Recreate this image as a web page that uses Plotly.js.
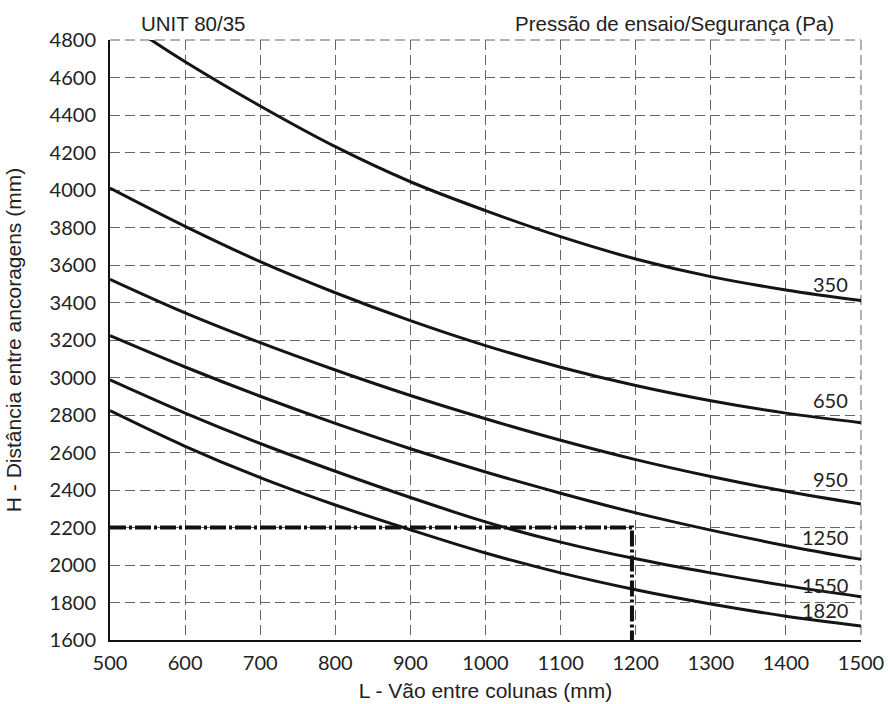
<!DOCTYPE html>
<html>
<head>
<meta charset="utf-8">
<script src="https://cdn.plot.ly/plotly-3.0.1.min.js"></script>
<style>html,body{margin:0;padding:0;background:#fff;}#chart{width:890px;height:704px;}</style>
</head>
<body>
<div id="chart"></div>
<script>
// Data
const spanL = [500, 600, 700, 800, 900, 1000, 1100, 1200, 1300, 1400, 1500];
const spanL350 = [550, 600, 700, 800, 900, 1000, 1100, 1200, 1300, 1400, 1500];
const h350  = [4813, 4684, 4448, 4231, 4044, 3890, 3751, 3632, 3538, 3467, 3410];
const h650  = [4010, 3806, 3618, 3452, 3303, 3170, 3055, 2957, 2876, 2810, 2759];
const h950  = [3524, 3345, 3186, 3040, 2904, 2780, 2665, 2562, 2472, 2393, 2325];
const h1250 = [3223, 3056, 2900, 2755, 2620, 2496, 2383, 2278, 2186, 2103, 2030];
const h1550 = [2987, 2810, 2648, 2500, 2360, 2230, 2122, 2033, 1958, 1890, 1831];
const h1820 = [2823, 2633, 2466, 2320, 2188, 2064, 1958, 1868, 1792, 1727, 1675];
const pressureLabels = ["350", "650", "950", "1250", "1550", "1820"];
// Example reading (dash-dot guide)
const exampleL = [500, 1195, 1195];
const exampleH = [2200, 2200, 1600];
const xTicks = [500, 600, 700, 800, 900, 1000, 1100, 1200, 1300, 1400, 1500];
const yTicks = [1600, 1800, 2000, 2200, 2400, 2600, 2800, 3000, 3200, 3400, 3600, 3800, 4000, 4200, 4400, 4600, 4800];

const series = [
  {x: spanL350, y: h350},
  {x: spanL, y: h650},
  {x: spanL, y: h950},
  {x: spanL, y: h1250},
  {x: spanL, y: h1550},
  {x: spanL, y: h1820}
];
// label offsets above each curve's end (px)
const labelYShift = [17, 23, 25, 22, 12, 16];

const curveLine = {color: '#141414', width: 3, shape: 'spline', smoothing: 1};
const traces = series.map((s, i) => ({
  type: 'scatter', mode: 'lines', x: s.x, y: s.y,
  line: curveLine, hoverinfo: 'skip', showlegend: false, name: pressureLabels[i]
}));
traces.push({
  type: 'scatter', mode: 'lines', x: exampleL, y: exampleH,
  line: {color: '#111', width: 4, dash: '16px,3px,3px,3px'},
  showlegend: false, hoverinfo: 'skip'
});

const numFamily = 'Lato, "Liberation Sans", Arial, sans-serif';
const textFamily = '"Liberation Sans", Arial, sans-serif';
const gridColor = '#666';
const gridDash = '10px,5px';
const tickFont = {family: numFamily, size: 20, color: '#222'};
const annotations = series.map((s, i) => ({
  x: s.x[s.x.length - 1], y: s.y[s.y.length - 1], xref: 'x', yref: 'y',
  text: pressureLabels[i], showarrow: false, xanchor: 'right', yanchor: 'middle',
  xshift: -11, yshift: labelYShift[i],
  font: {family: numFamily, size: 20, color: '#222'}
}));
annotations.push({
  xref: 'paper', yref: 'paper', x: 0.111, y: 1, yanchor: 'bottom', xanchor: 'center', yshift: 3,
  text: 'UNIT 80/35', showarrow: false,
  font: {family: textFamily, size: 20.5, color: '#222'}
});
annotations.push({
  xref: 'paper', yref: 'paper', x: 0.967, y: 1, yanchor: 'bottom', xanchor: 'right', yshift: 3,
  text: 'Pressão de ensaio/Segurança (Pa)', showarrow: false,
  font: {family: textFamily, size: 20.5, color: '#222'}
});

const layout = {
  width: 890, height: 704,
  margin: {l: 110, r: 29, t: 40, b: 64},
  paper_bgcolor: '#fff', plot_bgcolor: '#fff',
  xaxis: {
    range: [500, 1500], tickvals: xTicks, ticktext: xTicks.map(String),
    showgrid: true, gridcolor: gridColor, gridwidth: 1, griddash: gridDash,
    showline: true, linecolor: '#111', linewidth: 2,
    ticks: 'outside', ticklen: 4, tickcolor: 'rgba(0,0,0,0)',
    tickfont: tickFont, zeroline: false,
    title: {text: 'L - Vão entre colunas (mm)', standoff: 10,
      font: {family: textFamily, size: 21, color: '#222'}}
  },
  yaxis: {
    range: [1600, 4800], tickvals: yTicks, ticktext: yTicks.map(String),
    showgrid: true, gridcolor: gridColor, gridwidth: 1, griddash: gridDash,
    showline: true, linecolor: '#111', linewidth: 2,
    ticks: 'outside', ticklen: 8, tickcolor: 'rgba(0,0,0,0)',
    tickfont: tickFont, zeroline: false,
    title: {text: 'H - Distância entre ancoragens (mm)', standoff: 22,
      font: {family: textFamily, size: 21, color: '#222'}}
  },
  shapes: [
    {type: 'line', xref: 'paper', yref: 'paper', x0: 0, x1: 1, y0: 1, y1: 1, layer: 'below',
     line: {color: gridColor, width: 1, dash: gridDash}},
    {type: 'line', xref: 'paper', yref: 'paper', x0: 1, x1: 1, y0: 1, y1: 0, layer: 'below',
     line: {color: gridColor, width: 1, dash: gridDash}}
  ],
  annotations: annotations,
  showlegend: false
};

Plotly.newPlot('chart', traces, layout, {displayModeBar: false, staticPlot: true});
</script>
</body>
</html>
